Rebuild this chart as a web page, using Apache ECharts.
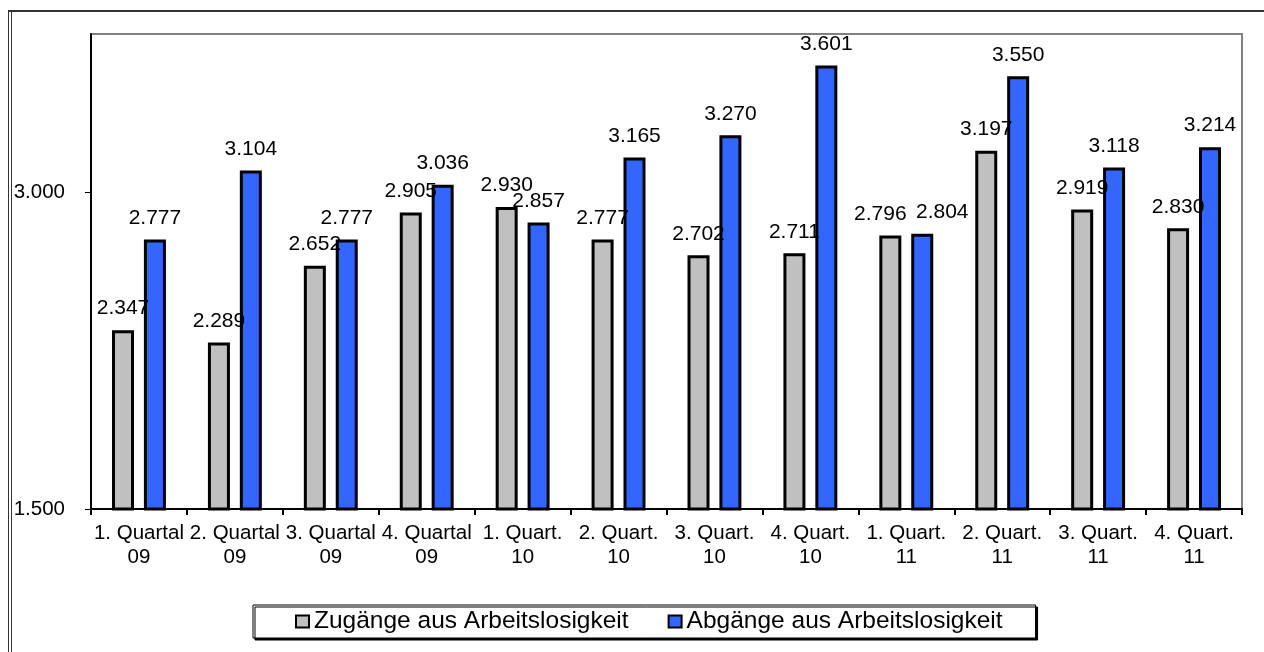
<!DOCTYPE html>
<html>
<head>
<meta charset="utf-8">
<style>
html,body{margin:0;padding:0;background:#fff;}
#chart{width:1264px;height:652px;}
</style>
<script src="https://cdn.jsdelivr.net/npm/echarts@6/dist/echarts.min.js"></script>
</head>
<body>
<div id="chart"></div>
<script>
const categories = [
  '1. Quartal\n09', '2. Quartal\n09', '3. Quartal\n09', '4. Quartal\n09',
  '1. Quart.\n10', '2. Quart.\n10', '3. Quart.\n10', '4. Quart.\n10',
  '1. Quart.\n11', '2. Quart.\n11', '3. Quart.\n11', '4. Quart.\n11'
];
const zugaenge = [2347, 2289, 2652, 2905, 2930, 2777, 2702, 2711, 2796, 3197, 2919, 2830];
const abgaenge = [2777, 3104, 2777, 3036, 2857, 3165, 3270, 3601, 2804, 3550, 3118, 3214];
const yTicks = [1500, 3000];
const seriesNames = ['Zugänge aus Arbeitslosigkeit', 'Abgänge aus Arbeitslosigkeit'];

const FONT = '"Liberation Sans", Arial, sans-serif';
function fmt(v) {
  return String(v).replace(/\B(?=(\d{3})+(?!\d))/g, '.');
}
// labels nudged apart where they would collide (as in the original)
const labelNudge = { zug: { 8: [-10, 0] }, abg: { 8: [20, 0] } };
function withNudge(values, nudge) {
  return values.map((v, i) => nudge[i] ? { value: v, label: { offset: nudge[i] } } : v);
}

const chart = echarts.init(document.getElementById('chart'));
const labelCfg = {
  show: true, position: 'top', distance: 11,
  fontFamily: FONT, fontSize: 21, color: '#000',
  formatter: p => fmt(p.value)
};
chart.setOption({
  animation: false,
  backgroundColor: '#fff',
  textStyle: { fontFamily: FONT },
  graphic: [
    { type: 'line', shape: { x1: 8, y1: 11, x2: 1264, y2: 11 }, style: { stroke: '#333', lineWidth: 2 }, silent: true },
    { type: 'line', shape: { x1: 8.5, y1: 10, x2: 8.5, y2: 652 }, style: { stroke: '#333', lineWidth: 1 }, silent: true },
    { type: 'line', shape: { x1: 11.5, y1: 12, x2: 11.5, y2: 652 }, style: { stroke: '#333', lineWidth: 1 }, silent: true }
  ],
  grid: {
    left: 91, top: 34, right: 22, bottom: 143,
    show: true, borderColor: '#808080', borderWidth: 2, backgroundColor: 'transparent'
  },
  legend: {
    left: 253, top: 605,
    padding: [4, 33, 4, 42],
    itemGap: 39, itemWidth: 13, itemHeight: 12,
    backgroundColor: '#fff',
    borderColor: '#000', borderWidth: 1,
    shadowColor: '#000', shadowBlur: 0, shadowOffsetX: 2, shadowOffsetY: 2,
    textStyle: { fontFamily: FONT, fontSize: 24.5, color: '#000' },
    icon: 'rect',
    data: seriesNames
  },
  xAxis: {
    type: 'category',
    data: categories,
    boundaryGap: true,
    axisLine: { lineStyle: { color: '#000', width: 2 } },
    axisTick: { show: true, length: 6, inside: false, lineStyle: { color: '#000', width: 2 } },
    axisLabel: {
      interval: 0, margin: 12, fontFamily: FONT, fontSize: 20.5, lineHeight: 24, color: '#000'
    }
  },
  yAxis: {
    type: 'value',
    min: 1500, max: 3750, interval: 1500,
    axisLine: { show: true, lineStyle: { color: '#000', width: 2 } },
    axisTick: { show: true, length: 6, customValues: yTicks, lineStyle: { color: '#000', width: 1 } },
    axisLabel: {
      customValues: yTicks, margin: 26, fontFamily: FONT, fontSize: 20.5, color: '#000',
      formatter: v => fmt(v)
    },
    splitLine: { show: true, showMinLine: false, showMaxLine: false, lineStyle: { color: '#000', width: 1 } }
  },
  series: [
    {
      name: seriesNames[0], type: 'bar', data: withNudge(zugaenge, labelNudge.zug),
      barWidth: 22, barGap: '45%',
      itemStyle: { color: '#C0C0C0', borderColor: '#000', borderWidth: 3 },
      label: labelCfg
    },
    {
      name: seriesNames[1], type: 'bar', data: withNudge(abgaenge, labelNudge.abg),
      barWidth: 22, barGap: '45%',
      itemStyle: { color: '#3366FF', borderColor: '#000', borderWidth: 3 },
      label: labelCfg
    }
  ]
});
</script>
</body>
</html>
